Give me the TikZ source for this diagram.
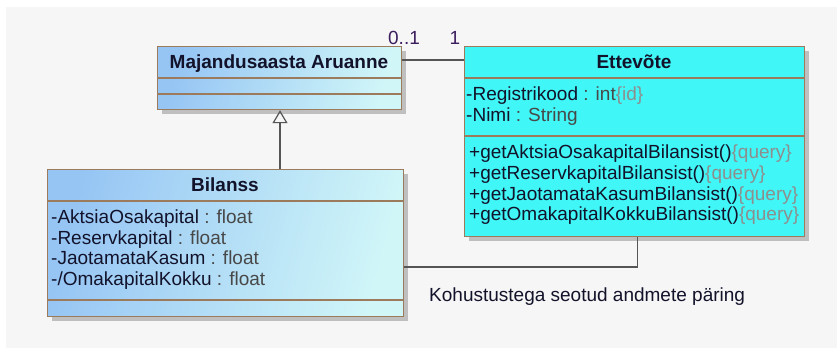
\documentclass[tikz,border=0pt]{standalone}
\usepackage{fontspec}
\setmainfont{Liberation Sans}
\usetikzlibrary{arrows.meta,shadows}

\definecolor{bggray}{HTML}{F6F6F6}
\definecolor{boxedge}{HTML}{9C7A5C}
\definecolor{blueA}{HTML}{96C5F4}
\definecolor{blueB}{HTML}{D0F6F8}
\definecolor{cyanfill}{HTML}{40F6F6}
\definecolor{txt}{HTML}{12122A}
\definecolor{typecol}{HTML}{484848}
\definecolor{constr}{HTML}{8E8E8E}
\definecolor{multcol}{HTML}{3C1E5E}
\definecolor{linecol}{HTML}{555555}

\newcommand\tyv[1]{\textcolor{typecol}{#1}}
\newcommand\cns[1]{\textcolor{constr}{#1}}

\tikzset{
  classbox/.style={draw=boxedge, line width=1.2pt, inner sep=0pt, anchor=north west,
    drop shadow={shadow xshift=4pt, shadow yshift=-4pt, fill=black!25, opacity=1}},
  gradbox/.style={classbox, left color=blueA, right color=blueB, shading angle=75},
  cyanbox/.style={classbox, fill=cyanfill},
  divider/.style={draw=boxedge, line width=1.2pt},
  title/.style={font=\fontsize{19}{20}\selectfont\bfseries, text=txt, inner sep=0pt,
    text height=13.5pt, text depth=0pt},
  member/.style={font=\fontsize{19}{20}\selectfont, text=txt, inner sep=0pt, anchor=west,
    text height=13.5pt, text depth=0pt},
  mult/.style={font=\fontsize{19}{20}\selectfont, text=multcol, inner sep=0pt,
    text height=13.5pt, text depth=0pt},
  assoc/.style={draw=linecol, line width=1.3pt},
  generalize/.style={assoc, -{Triangle[open, width=15pt, length=13pt, line width=1.2pt]}}
}

\begin{document}
\begin{tikzpicture}[x=1pt, y=-1pt]
  \useasboundingbox (0,0) rectangle (837,349);
  \fill[bggray] (6,7) rectangle (837,348);

  % class boxes
  \node[gradbox, minimum width=244pt, minimum height=63pt] (maj) at (157,46) {};
  \node[gradbox, minimum width=356pt, minimum height=147pt] (bil) at (47,169) {};
  \node[cyanbox, minimum width=340pt, minimum height=190pt] (ett) at (464,46) {};

  % compartment dividers
  \draw[divider] (maj.west |- 0,78) -- (maj.east |- 0,78);
  \draw[divider] (maj.west |- 0,94) -- (maj.east |- 0,94);
  \draw[divider] (bil.west |- 0,201) -- (bil.east |- 0,201);
  \draw[divider] (bil.west |- 0,300) -- (bil.east |- 0,300);
  \draw[divider] (ett.west |- 0,78) -- (ett.east |- 0,78);
  \draw[divider] (ett.west |- 0,136) -- (ett.east |- 0,136);

  % class names
  \node[title] (majname) at (279,62) {Majandusaasta Aruanne};
  \node[title] (bilname) at (225,185) {Bilanss};
  \node[title] (ettname) at (634,62) {Ettevõte};

  % Bilanss attributes
  \node[member] (b1) at (51,217) {-AktsiaOsakapital \tyv{: float}};
  \node[member] (b2) at (51,237.5) {-Reservkapital \tyv{: float}};
  \node[member] (b3) at (51,258) {-JaotamataKasum \tyv{: float}};
  \node[member] (b4) at (51,278.5) {-/OmakapitalKokku \tyv{: float}};

  % Ettevõte attributes
  \node[member] (e1) at (466,94) {-Registrikood \tyv{: int}\cns{\{id\}}};
  \node[member] (e2) at (466,115) {-Nimi \tyv{: String}};

  % Ettevõte operations
  \node[member] (m1) at (469,152) {+getAktsiaOsakapitalBilansist()\cns{\{query\}}};
  \node[member] (m2) at (469,172.7) {+getReservkapitalBilansist()\cns{\{query\}}};
  \node[member] (m3) at (469,193.3) {+getJaotamataKasumBilansist()\cns{\{query\}}};
  \node[member] (m4) at (469,214) {+getOmakapitalKokkuBilansist()\cns{\{query\}}};

  % generalization Bilanss -> Majandusaasta Aruanne
  \draw[generalize] (bil.north -| 280,0) -- (maj.south -| 280,0);

  % association Majandusaasta Aruanne -- Ettevõte
  \coordinate (a1) at ([yshift=-14pt]maj.north east);
  \draw[assoc] (a1) -- (a1 -| ett.west);
  \node[mult] (m01) at (404,38) {0..1};
  \node[mult] (m1e) at (455,38) {1};

  % association Bilanss -- Ettevõte
  \coordinate (a2) at ([yshift=-98pt]bil.north east);
  \draw[assoc] (a2) -| ([xshift=3pt]ett.south);
  \node[font=\fontsize{19}{20}\selectfont, text=txt, inner sep=0pt, anchor=west,
    text height=13.5pt, text depth=0pt] (lbl) at (429,295) {Kohustustega seotud andmete päring};
\end{tikzpicture}
\end{document}
